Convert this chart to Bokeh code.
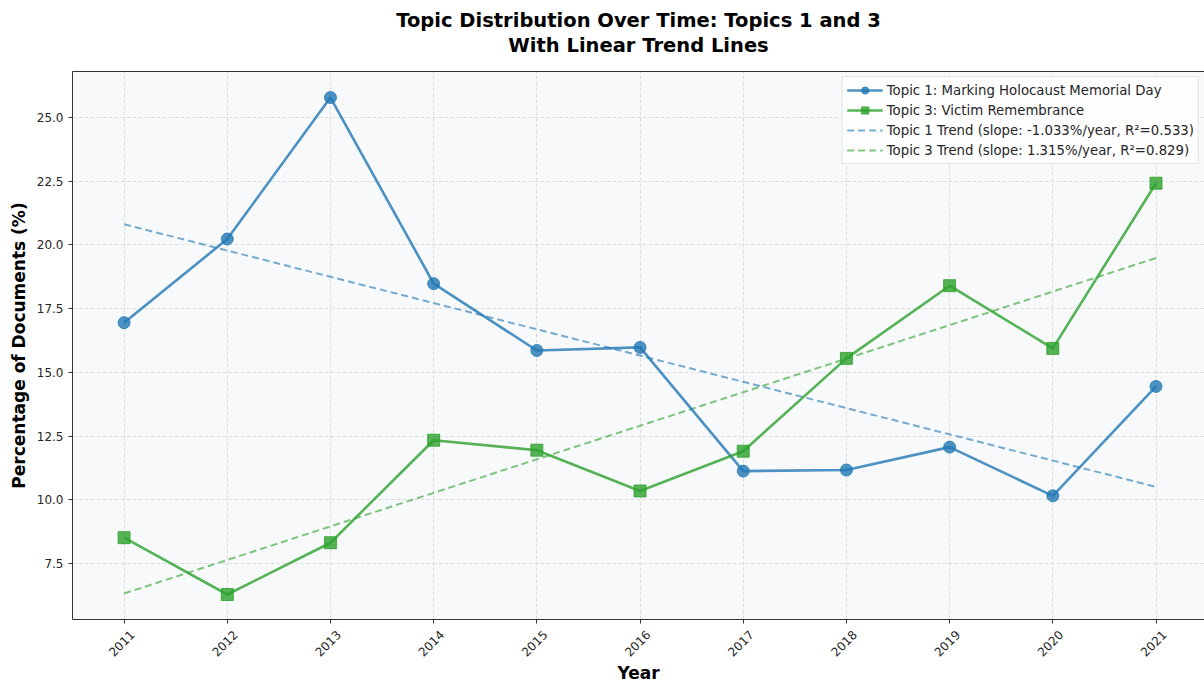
import numpy as np
from bokeh.plotting import figure
from bokeh.models import (Range1d, FixedTicker, PrintfTickFormatter, Legend, LegendItem,
                          LinearAxis, Title)
from bokeh.embed import file_html
from bokeh.resources import INLINE

years = [2011, 2012, 2013, 2014, 2015, 2016, 2017, 2018, 2019, 2020, 2021]
topic1 = [16.95, 20.23, 25.78, 18.48, 15.86, 15.98, 11.13, 11.17, 12.07, 10.16, 14.45]
topic3 = [8.52, 6.29, 8.32, 12.34, 11.95, 10.35, 11.91, 15.55, 18.40, 15.94, 22.42]
y_ticks = [7.5, 10.0, 12.5, 15.0, 17.5, 20.0, 22.5, 25.0]

label1 = "Topic 1: Marking Holocaust Memorial Day"
label3 = "Topic 3: Victim Remembrance"
trend_label1 = "Topic 1 Trend (slope: -1.033%/year, R\u00b2=0.533)"
trend_label3 = "Topic 3 Trend (slope: 1.315%/year, R\u00b2=0.829)"
title_line1 = "Topic Distribution Over Time: Topics 1 and 3"
title_line2 = "With Linear Trend Lines"

blue = "#1f77b4"
green = "#2ca02c"
FONT = "DejaVu Sans"

x = np.array(years, dtype=float)
c1 = np.polyfit(x, topic1, 1)
c3 = np.polyfit(x, topic3, 1)
trend1 = list(np.polyval(c1, x))
trend3 = list(np.polyval(c3, x))

X0, X1 = 2010.5, 2021.47
SHIFT = 0.08

p = figure(width=1204, height=686, output_backend="svg", toolbar_location=None, title=None,
           x_range=Range1d(X0, X1), y_range=Range1d(5.31, 26.80),
           min_border_left=72, min_border_top=71, min_border_bottom=65, min_border_right=0)
p.extra_x_ranges = {"lab": Range1d(X0 - SHIFT, X1 - SHIFT)}

p.background_fill_color = "#f8f9fa"
p.border_fill_color = "white"
p.outline_line_color = None

for ax in (p.xaxis[0], p.yaxis[0]):
    ax.axis_line_color = "#333333"
    ax.axis_line_width = 1
    ax.major_tick_line_color = "#333333"
    ax.major_tick_out = 4
    ax.major_tick_in = 0
    ax.major_label_text_font = FONT
    ax.major_label_text_font_size = "12px"
    ax.major_label_text_color = "#262626"
    ax.axis_label_text_font = FONT
    ax.axis_label_text_font_size = "17px"
    ax.axis_label_text_font_style = "bold"
    ax.axis_label_text_color = "black"

# main x axis: tick marks only (as minor ticks, no labels)
p.xaxis.ticker = FixedTicker(ticks=[], minor_ticks=years)
p.xaxis.minor_tick_line_color = "#333333"
p.xaxis.minor_tick_out = 4
p.xaxis.minor_tick_in = 0
p.xaxis.major_label_standoff = 0
p.yaxis.minor_tick_line_color = None
p.yaxis.ticker = FixedTicker(ticks=y_ticks)
p.yaxis.formatter = PrintfTickFormatter(format="%.1f")
p.yaxis.axis_label = "Percentage of Documents (%)"

# label axis, slightly shifted so the rotated labels sit centred under the ticks
lab_axis = LinearAxis(x_range_name="lab", ticker=FixedTicker(ticks=years),
                      axis_line_color=None, major_tick_line_color=None, major_tick_out=0,
                      major_tick_in=0, minor_tick_line_color=None, minor_tick_out=0,
                      major_label_orientation=np.pi / 4, major_label_standoff=9,
                      major_label_text_font=FONT, major_label_text_font_size="12px",
                      major_label_text_color="#262626",
                      axis_label="Year", axis_label_text_font=FONT,
                      axis_label_text_font_size="17px", axis_label_text_font_style="bold",
                      axis_label_text_color="black", axis_label_standoff=0)
p.add_layout(lab_axis, "below")

# top frame line; invisible minor ticks give the gap below the title
top_axis = LinearAxis(major_tick_line_color=None, minor_tick_line_color=None,
                      axis_line_color="#333333", major_label_standoff=0,
                      major_tick_out=15, major_tick_in=0, minor_tick_out=15, minor_tick_in=0)
top_axis.ticker = FixedTicker(ticks=[], minor_ticks=years)
p.add_layout(top_axis, "above")

p.add_layout(Title(text=title_line2, align="center", text_font=FONT, text_font_size="19.5px",
                   text_font_style="bold", text_color="black", standoff=0), "above")
p.add_layout(Title(text=title_line1, align="center", text_font=FONT, text_font_size="19.5px",
                   text_font_style="bold", text_color="black", standoff=0), "above")

p.grid.grid_line_color = "#cccccc"
p.grid.grid_line_dash = "4 2"
p.grid.grid_line_alpha = 0.6
p.xgrid.ticker = FixedTicker(ticks=years)
p.ygrid.ticker = FixedTicker(ticks=y_ticks)

t1 = p.line(years, trend1, line_color=blue, line_width=2, line_alpha=0.6, line_dash="7 4")
t3 = p.line(years, trend3, line_color=green, line_width=2, line_alpha=0.6, line_dash="7 4")
l1 = p.line(years, topic1, line_color=blue, line_width=2.6, line_alpha=0.8)
s1 = p.scatter(years, topic1, marker="circle", size=12, fill_color=blue, line_color=blue,
               fill_alpha=0.8, line_alpha=0.8)
l3 = p.line(years, topic3, line_color=green, line_width=2.6, line_alpha=0.8)
s3 = p.scatter(years, topic3, marker="square", size=12, fill_color=green, line_color=green,
               fill_alpha=0.8, line_alpha=0.8)

legend = Legend(items=[
    LegendItem(label=label1, renderers=[l1, s1]),
    LegendItem(label=label3, renderers=[l3, s3]),
    LegendItem(label=trend_label1, renderers=[t1]),
    LegendItem(label=trend_label3, renderers=[t3]),
], location="top_right")
legend.label_text_font = FONT
legend.label_text_font_size = "13.3px"
legend.label_text_color = "#262626"
legend.glyph_width = 36
legend.glyph_height = 18
legend.label_height = 18
legend.spacing = 2
legend.padding = 4
legend.margin = 5
legend.label_standoff = 4
legend.border_line_color = "#cccccc"
legend.background_fill_color = "white"
legend.background_fill_alpha = 0.85
p.add_layout(legend)

open("out.html", "w").write(file_html(p, INLINE))
